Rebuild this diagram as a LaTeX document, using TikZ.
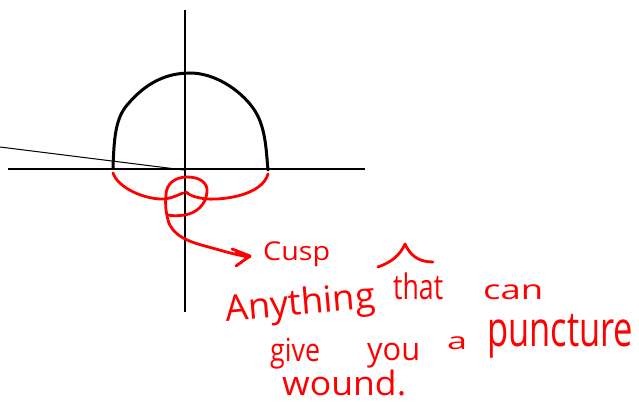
\documentclass[tikz,border=0pt]{standalone}
\usepackage{fontspec}
\setmainfont{Open Sans}
\definecolor{ink}{RGB}{255,0,0}
\tikzset{
  axis/.style={line width=1.2pt,black},
  dome/.style={line width=3pt,black,line cap=round,line join=round},
  pen/.style={line width=2.8pt,ink,line cap=round,line join=round},
  hw/.style={ink,inner sep=0pt,anchor=south west}
}
\begin{document}
\begin{tikzpicture}[x=1pt,y=-1pt]
\useasboundingbox[fill=white] (0,0) rectangle (639,403);
% axes
\coordinate (vtop) at (185,10);
\coordinate (vbot) at (185,312);
\coordinate (hl) at (8,169);
\coordinate (hr) at (365,169);
\coordinate (sl) at (0,147);
\coordinate (o) at (184,170);
\draw[axis] (vtop) -- (vbot);
\draw[axis] (hl) -- (hr);
\draw[line width=1pt] (sl) -- (o);
% dome
\coordinate (dl) at (113,168);
\coordinate (dr) at (268,170);
\coordinate (dt) at (190,73);
\draw[dome] (dl) .. controls (114,140) and (115,118) .. (128,104)
  .. controls (145,84) and (165,73) .. (dt)
  .. controls (215,73) and (240,90) .. (253,108)
  .. controls (266,126) and (266,150) .. (dr);
% red cusp curve
\coordinate (rl) at (113,173);
\coordinate (rr) at (268,174);
\coordinate (lt) at (187,177);
\coordinate (tip) at (250,257);
\draw[pen] (rl) .. controls (118,188) and (145,200) .. (165,199)
  .. controls (172,198) and (178,195) .. (183,193);
\draw[pen] (rr) .. controls (262,195) and (225,200) .. (207,199)
  .. controls (198,198) and (190,196) .. (186,192);
\draw[pen] (lt) .. controls (175,177) and (166,184) .. (166,195)
  .. controls (165,205) and (166,212) .. (168,220)
  .. controls (172,236) and (190,242) .. (205,246)
  .. controls (220,250) and (235,255) .. (tip);
\draw[pen] (lt) .. controls (200,177) and (208,183) .. (207,192)
  .. controls (206,205) and (196,213) .. (185,215)
  .. controls (178,216) and (172,216) .. (168,215);
\draw[pen] (232,249) -- (250,256) -- (236,266);
\draw[pen] (236,253) -- (247,257);
% hat mark
\coordinate (h1) at (378,267);
\coordinate (h2) at (405,244);
\coordinate (h3) at (433,262);
\draw[pen] (h1) .. controls (392,262) and (400,255) .. (h2)
  .. controls (410,255) and (418,262) .. (h3);
% text
\node[hw] (cusp) at (263,267) {\resizebox*{67pt}{25pt}{Cusp}};
\node[hw,rotate=5] (any) at (227,330) {\resizebox*{150pt}{36pt}{Anything}};
\node[hw] (that) at (393,300) {\resizebox*{50pt}{27pt}{that}};
\node[hw] (can) at (483,300) {\resizebox*{60pt}{15pt}{can}};
\node[hw] (give) at (270,369) {\resizebox*{50pt}{31pt}{give}};
\node[hw] (you) at (367,368) {\resizebox*{53pt}{25pt}{you}};
\node[hw] (a) at (447,350) {\resizebox*{20pt}{13pt}{a}};
\node[hw] (punc) at (487,358) {\resizebox*{146pt}{44pt}{puncture}};
\node[hw] (wound) at (282,396) {\resizebox*{124pt}{26pt}{wound.}};
\end{tikzpicture}
\end{document}
